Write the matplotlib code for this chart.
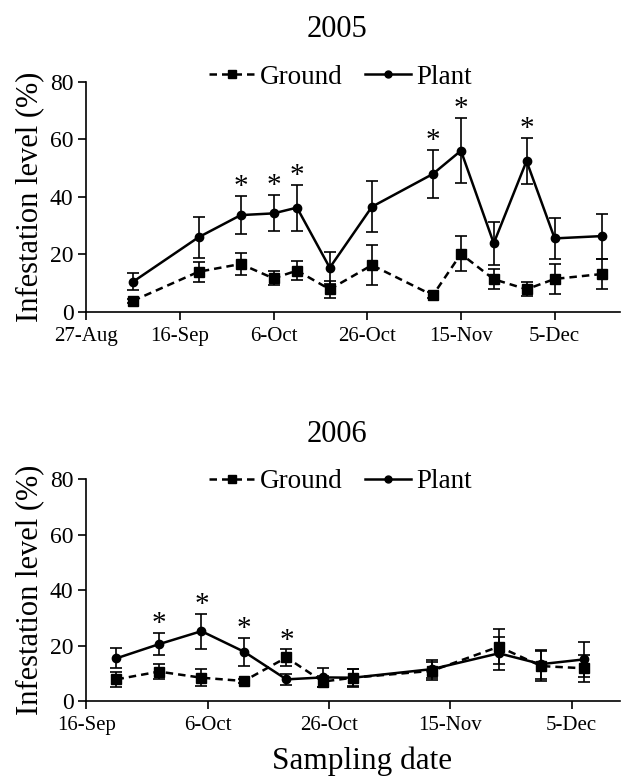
import datetime as dt

import matplotlib
matplotlib.use("Agg")
import matplotlib.pyplot as plt
import matplotlib.dates as mdates
from matplotlib.lines import Line2D
from matplotlib.ticker import FuncFormatter

plt.rcParams["font.family"] = ["Liberation Serif", "DejaVu Serif"]

# 2005 sampling
dates_2005 = ["2005-09-06", "2005-09-20", "2005-09-29", "2005-10-06", "2005-10-11",
              "2005-10-18", "2005-10-27", "2005-11-09", "2005-11-15", "2005-11-22",
              "2005-11-29", "2005-12-05", "2005-12-15"]
plant_2005 = [10.4, 25.9, 33.6, 34.2, 36.2, 15.3, 36.5, 47.9, 56.0, 23.8, 52.4, 25.5, 26.3]
plant_err_2005 = [3.0, 7.2, 6.6, 6.3, 8.0, 5.6, 8.8, 8.5, 11.3, 7.4, 8.0, 7.0, 7.8]
ground_2005 = [3.8, 13.9, 16.6, 11.6, 14.3, 7.8, 16.2, 5.7, 20.1, 11.3, 7.8, 11.4, 13.1]
ground_err_2005 = [0.6, 3.5, 3.9, 2.4, 3.4, 3.0, 7.0, 1.0, 6.1, 3.4, 2.5, 5.1, 5.2]
stars_2005 = [2, 3, 4, 7, 8, 10]

# 2006 sampling
dates_2006 = ["2006-09-21", "2006-09-28", "2006-10-05", "2006-10-12", "2006-10-19",
              "2006-10-25", "2006-10-30", "2006-11-12", "2006-11-23", "2006-11-30",
              "2006-12-07"]
plant_2006 = [15.4, 20.5, 25.2, 17.8, 7.8, 8.5, 8.4, 11.5, 17.2, 13.3, 15.0]
plant_err_2006 = [3.6, 4.0, 6.3, 5.0, 1.9, 3.5, 3.0, 3.3, 6.0, 5.2, 6.4]
ground_2006 = [7.8, 10.6, 8.4, 7.2, 15.7, 7.0, 8.4, 10.9, 19.6, 12.6, 11.8]
ground_err_2006 = [2.8, 2.7, 3.0, 0.8, 2.9, 2.0, 3.2, 3.3, 6.2, 5.5, 4.8]
stars_2006 = [1, 2, 3, 4]

xtick_2005 = ["2005-08-27", "2005-09-16", "2005-10-06", "2005-10-26", "2005-11-15", "2005-12-05"]
xlim_2005 = ("2005-08-27", "2005-12-19")
xtick_2006 = ["2006-09-16", "2006-10-06", "2006-10-26", "2006-11-15", "2006-12-05"]
xlim_2006 = ("2006-09-16", "2006-12-13")


def to_dates(values):
    return [dt.datetime.strptime(v, "%Y-%m-%d") for v in values]


def day_month(x, pos):
    d = mdates.num2date(x)
    return f"{d.day}-{d.strftime('%b')}"


def draw_panel(ax, title, dates, plant, plant_err, ground, ground_err, stars, ticks, xlim,
               title_pad, legend_y):
    x = to_dates(dates)
    ground_style = dict(color="black", ls="--", lw=1.8, marker="s", ms=7, dashes=(3, 2))
    plant_style = dict(color="black", ls="-", lw=1.8, marker="o", ms=6)
    ax.errorbar(x, ground, yerr=ground_err, capsize=4, elinewidth=1.2, capthick=1.2,
                **ground_style)
    ax.errorbar(x, plant, yerr=plant_err, capsize=4, elinewidth=1.2, capthick=1.2,
                **plant_style)
    for i in stars:
        top = max(plant[i] + plant_err[i], ground[i] + ground_err[i])
        ax.annotate("*", (x[i], top), xytext=(0, -3), textcoords="offset points",
                    ha="center", va="bottom", fontsize=21)

    ax.set_ylim(0, 80)
    ax.set_yticks([0, 20, 40, 60, 80])
    ax.set_xlim(to_dates(xlim))
    ax.set_xticks(to_dates(ticks))
    ax.xaxis.set_major_formatter(FuncFormatter(day_month))
    ax.tick_params(axis="y", labelsize=17, direction="out", length=6, width=1.2, pad=3)
    ax.tick_params(axis="x", labelsize=15, direction="out", length=6, width=1.2, pad=5)
    for s in ["top", "right"]:
        ax.spines[s].set_visible(False)
    for s in ["left", "bottom"]:
        ax.spines[s].set_linewidth(1.2)
    ax.set_ylabel("Infestation level (%)", fontsize=22, labelpad=4)
    ax.set_title(title, fontsize=22, x=0.47, pad=title_pad)
    leg_ground = dict(ground_style, ms=5.5)
    leg_plant = dict(plant_style, ms=5)
    handles = [Line2D([], [], **leg_ground), Line2D([], [], **leg_plant)]
    ax.legend(handles, ["Ground", "Plant"], loc="center", bbox_to_anchor=(0.476, legend_y),
              ncol=2, frameon=False, fontsize=19.5, handlelength=1.7,
              columnspacing=0.8, handletextpad=0.2, borderpad=0)


fig = plt.figure(figsize=(6.24, 7.84), dpi=100)
ax1 = fig.add_axes([0.138, 0.6024, 0.856, 0.2934])
ax2 = fig.add_axes([0.138, 0.1059, 0.856, 0.2827])

draw_panel(ax1, "2005", dates_2005, plant_2005, plant_err_2005, ground_2005,
           ground_err_2005, stars_2005, xtick_2005, xlim_2005, 32, 1.02)
draw_panel(ax2, "2006", dates_2006, plant_2006, plant_err_2006, ground_2006,
           ground_err_2006, stars_2006, xtick_2006, xlim_2006, 27, 0.99)
ax2.set_xlabel("Sampling date", fontsize=22.5)
ax2.xaxis.set_label_coords(0.516, -0.205)

fig.savefig("out.png", dpi=100)
